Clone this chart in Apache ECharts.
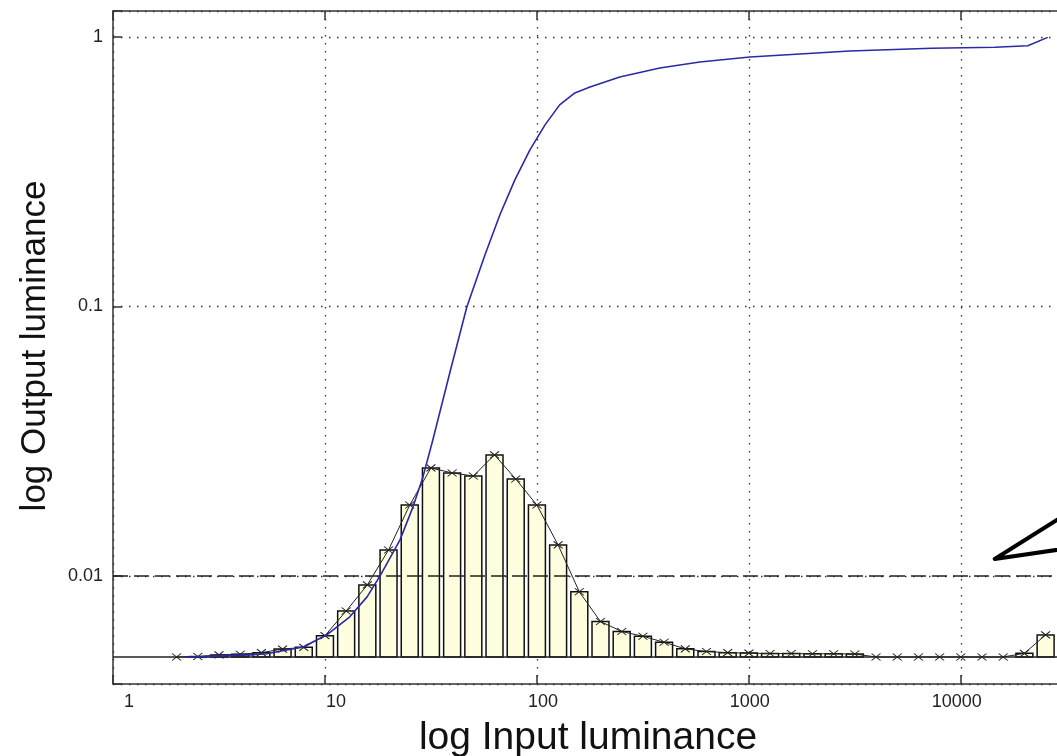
<!DOCTYPE html>
<html>
<head>
<meta charset="utf-8">
<script src="https://cdn.jsdelivr.net/npm/echarts@6/dist/echarts.min.js"></script>
<style>
    html, body { margin: 0; padding: 0; background: #fff; }
    #chart { width: 1057px; height: 756px; }
</style>
</head>
<body>
<div id="chart"></div>
<script>
// histogram bins: log10 of the bin centre (input luminance)
var binExp = [0.3, 0.4, 0.5, 0.6, 0.7, 0.8, 0.9, 1.0, 1.1, 1.2,
    1.3, 1.4, 1.5, 1.6, 1.7, 1.8, 1.9, 2.0, 2.1, 2.2,
    2.3, 2.4, 2.5, 2.6, 2.7, 2.8, 2.9, 3.0, 3.1, 3.2,
    3.3, 3.4, 3.5, 3.6, 3.7, 3.8, 3.9, 4.0, 4.1, 4.2,
    4.3, 4.4]
var histValues = [0.00500, 0.00502, 0.00509, 0.00512, 0.00519, 0.00535, 0.00543, 0.00600, 0.00741, 0.00926,
    0.01248, 0.01832, 0.02516, 0.02410, 0.02349, 0.02812, 0.02290, 0.01832, 0.01303, 0.00873,
    0.00677, 0.00622, 0.00597, 0.00567, 0.00536, 0.00524, 0.00519, 0.00517, 0.00515, 0.00515,
    0.00514, 0.00514, 0.00513, 0.00500, 0.00500, 0.00500, 0.00500, 0.00500, 0.00500, 0.00500,
    0.00516, 0.00604]

// tone curve (blue)
var curveInput = [2.19, 4.43, 5.32, 7.87, 10.2, 13.1, 15.8, 18.2, 22.6, 26.0,
    29.0, 32.3, 38.9, 46.7, 56.8, 66.9, 78.7, 92.7, 109, 128,
    151, 178, 246, 380, 587, 1011, 1741, 2993, 7295, 14454,
    20700, 25700]
var curveOutput = [0.00499, 0.00509, 0.00514, 0.00545, 0.00604, 0.00705, 0.00836, 0.0100, 0.0136, 0.0180,
    0.0233, 0.0320, 0.0571, 0.0996, 0.155, 0.219, 0.295, 0.381, 0.471, 0.560,
    0.620, 0.652, 0.711, 0.767, 0.808, 0.843, 0.865, 0.887, 0.908, 0.916,
    0.928, 0.997]

var xTicks = [1, 10, 100, 1000, 10000]
var yTicks = [0.01, 0.1, 1]
var baseLevel = 0.005
var refLevel = 0.01

// pointer drawn at the right edge
var pointerInput = [39811, 14454, 39811]
var pointerOutput = [0.01906, 0.01156, 0.01298]

var xMin = 1, xMax = 39811
var yMin = 0.00397, yMax = 1.249
var halfBin = Math.pow(10, 0.04)

function isTick(list, v) {
    for (var i = 0; i < list.length; i++) {
        if (Math.abs(Math.log10(v) - Math.log10(list[i])) < 1e-6) return list[i]
    }
    return null
}

var barData = []
var histLine = []
binExp.forEach(function (e, i) {
    var x = Math.pow(10, e)
    histLine.push([x, histValues[i]])
    if (histValues[i] > baseLevel) barData.push([x, histValues[i]])
})
var curveData = curveInput.map(function (x, i) { return [x, curveOutput[i]] })
var pointerData = pointerInput.map(function (x, i) { return [x, pointerOutput[i]] })

var font = '"Liberation Sans", Arial, Helvetica, sans-serif'
var dotted = { color: '#333', width: 1.3, type: [1.5, 6.5] }

var myChart = echarts.init(document.getElementById('chart'))
var option = {
    animation: false,
    backgroundColor: '#fff',
    grid: { left: 113, top: 11, width: 975, height: 673, containLabel: false, outerBoundsMode: 'none' },
    xAxis: [
        {
            type: 'log', logBase: 10, min: xMin, max: xMax, position: 'bottom',
            axisLine: { show: true, lineStyle: { color: '#333', width: 1.5 } },
            axisTick: { show: true, inside: true, length: 9, lineStyle: { color: '#333', width: 1.5 } },
            axisLabel: {
                margin: 9,
                formatter: function (v) {
                    var t = isTick(xTicks, v)
                    return t === null ? '' : '{a|' + t + '}'
                },
                rich: { a: { width: 42, align: 'right', fontSize: 18, fontFamily: font, color: '#222' } }
            },
            splitLine: { show: true, lineStyle: dotted }
        },
        {
            type: 'log', logBase: 10, min: xMin, max: xMax, position: 'top',
            axisLine: { show: true, lineStyle: { color: '#333', width: 1.5 } },
            axisTick: { show: true, inside: true, length: 9, lineStyle: { color: '#333', width: 1.5 } },
            axisLabel: { show: false },
            splitLine: { show: false }
        }
    ],
    yAxis: {
        type: 'log', logBase: 10, min: yMin, max: yMax,
        axisLine: { show: true, lineStyle: { color: '#333', width: 1.5 } },
        axisTick: { show: true, inside: true, length: 9, lineStyle: { color: '#333', width: 1.5 } },
        axisLabel: {
            margin: 10, fontSize: 18, fontFamily: font, color: '#222',
            formatter: function (v) {
                var t = isTick(yTicks, v)
                return t === null ? '' : String(t)
            }
        },
        splitLine: { show: true, lineStyle: dotted }
    },
    graphic: [
        {
            type: 'text', x: 588, y: 738,
            style: { text: 'log Input luminance', font: '39px ' + font, fill: '#111', align: 'center', verticalAlign: 'middle' }
        },
        {
            type: 'text', x: 35, y: 346, rotation: Math.PI / 2,
            style: { text: 'log Output luminance', font: '35px ' + font, fill: '#111', align: 'center', verticalAlign: 'middle' }
        }
    ],
    series: [
        {
            name: 'bins',
            type: 'custom',
            data: barData,
            z: 2,
            renderItem: function (params, api) {
                var x = api.value(0)
                var p0 = api.coord([x / halfBin, baseLevel])
                var p1 = api.coord([x * halfBin, api.value(1)])
                return {
                    type: 'rect',
                    shape: { x: p0[0], y: p1[1], width: p1[0] - p0[0], height: p0[1] - p1[1] },
                    style: { fill: '#ffffe0', stroke: '#111', lineWidth: 1.5 }
                }
            }
        },
        {
            name: 'base',
            type: 'line',
            data: [[xMin, baseLevel], [xMax, baseLevel]],
            z: 3,
            symbol: 'none',
            lineStyle: { color: '#222', width: 1.5, type: 'solid' }
        },
        {
            name: 'reference',
            type: 'line',
            data: [[xMin, refLevel], [xMax, refLevel]],
            z: 3,
            symbol: 'none',
            lineStyle: { color: '#222', width: 1.5, type: [15, 6] }
        },
        {
            name: 'histogram',
            type: 'line',
            data: histLine,
            z: 4,
            symbol: 'path://M0,0L8,6M8,0L0,6',
            symbolSize: [9, 7],
            itemStyle: { color: '#222', borderColor: '#222', borderWidth: 1 },
            lineStyle: { color: '#222', width: 1 }
        },
        {
            name: 'curve',
            type: 'line',
            data: curveData,
            z: 5,
            symbol: 'none',
            lineStyle: { color: '#2a2aa8', width: 1.6 }
        },
        {
            name: 'pointer',
            type: 'line',
            data: pointerData,
            z: 6,
            symbol: 'none',
            lineStyle: { color: '#000', width: 4, join: 'round', cap: 'round' }
        }
    ]
}
myChart.setOption(option)

window.addEventListener('resize', function () {
    myChart.resize()
})
</script>
</body>
</html>
